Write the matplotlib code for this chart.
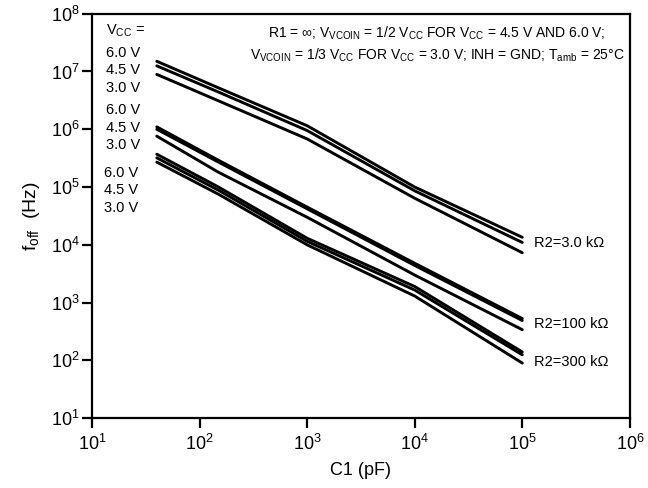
import numpy as np
import matplotlib
matplotlib.use("Agg")
import matplotlib.pyplot as plt
from matplotlib.ticker import LogLocator, NullLocator

plt.rcParams['font.family'] = ['Liberation Sans', 'DejaVu Sans']
plt.rcParams['mathtext.fontset'] = 'custom'
plt.rcParams['mathtext.rm'] = 'Liberation Sans'
plt.rcParams['mathtext.it'] = 'Liberation Sans'

# C1 values (pF)
c1 = [40, 150, 1000, 10000, 100000]

# f_off (Hz) per R2 group, per VCC
r2_3k = {
    "6.0": [1.5e7, 5.2e6, 1.15e6, 1.0e5, 1.35e4],
    "4.5": [1.25e7, 4.4e6, 9.5e5, 8.6e4, 1.1e4],
    "3.0": [8.9e6, 3.1e6, 6.8e5, 6.4e4, 7.3e3],
}
r2_100k = {
    "6.0": [1.1e6, 2.9e5, 4.5e4, 4.8e3, 5.3e2],
    "4.5": [1.0e6, 2.7e5, 4.2e4, 4.4e3, 4.9e2],
    "3.0": [7.6e5, 1.8e5, 3.0e4, 3.0e3, 3.4e2],
}
r2_300k = {
    "6.0": [3.7e5, 1.0e5, 1.3e4, 1.9e3, 1.4e2],
    "4.5": [3.2e5, 8.8e4, 1.15e4, 1.65e3, 1.25e2],
    "3.0": [2.7e5, 7.5e4, 1.0e4, 1.3e3, 9.0e1],
}
groups = [("R2=3.0 k\u03a9", r2_3k), ("R2=100 k\u03a9", r2_100k), ("R2=300 k\u03a9", r2_300k)]
vcc_labels = ["6.0 V", "4.5 V", "3.0 V"]

fig = plt.figure(figsize=(6.48, 4.88), dpi=100)
ax = fig.add_axes([0.142, 0.143, 0.83, 0.829])

for name, grp in groups:
    for v in ["6.0", "4.5", "3.0"]:
        ax.plot(c1, grp[v], color='black', lw=2.1, solid_capstyle='round')

ax.set_xscale('log')
ax.set_yscale('log')
ax.set_xlim(10, 1e6)
ax.set_ylim(10, 1e8)
ax.xaxis.set_major_locator(LogLocator(base=10, numticks=10))
ax.yaxis.set_major_locator(LogLocator(base=10, numticks=10))
ax.xaxis.set_minor_locator(NullLocator())
ax.yaxis.set_minor_locator(NullLocator())
ax.tick_params(axis='both', which='major', direction='out', length=7, width=1.6,
               labelsize=13, pad=2)
ax.tick_params(axis='x', pad=4)
for s in ax.spines.values():
    s.set_linewidth(1.6)

ax.set_xlabel("C1 (pF)", fontsize=13, labelpad=6)
ax.set_ylabel(r"f$_{\mathregular{off}}$  (Hz)", fontsize=14, labelpad=6)

# annotation placement helpers (pixel -> axes fraction)
tr = ax.transAxes
H = 404.5
def ay(py):
    return 1 - (py - 13.5) / H
def ax_x(px):
    return (px - 92) / 538.0

ax.text(ax_x(106), ay(31), r"V$_{\mathregular{CC}}$ =", transform=tr, fontsize=10.5, va='center')
ys = [53, 70, 88, 110, 128, 145, 173, 190, 208]
for i, py in enumerate(ys):
    xp = 106 if i < 6 else 104
    ax.text(ax_x(xp), ay(py), vcc_labels[i % 3], transform=tr, fontsize=10.5, va='center')

ax.text(ax_x(437), ay(33),
        r"R1 = $\infty$; V$_{\mathregular{VCOIN}}$ = 1/2 V$_{\mathregular{CC}}$ FOR V$_{\mathregular{CC}}$ = 4.5 V AND 6.0 V;",
        transform=tr, fontsize=10, ha='center', va='center')
ax.text(ax_x(437), ay(55),
        r"V$_{\mathregular{VCOIN}}$ = 1/3 V$_{\mathregular{CC}}$ FOR V$_{\mathregular{CC}}$ = 3.0 V; INH = GND; T$_{\mathregular{amb}}$ = 25$\degree$C",
        transform=tr, fontsize=10, ha='center', va='center')

label_y = [243, 324, 362]
for (name, grp), py in zip(groups, label_y):
    ax.text(ax_x(534), ay(py), name, transform=tr, fontsize=10.5, va='center')

plt.savefig("out.png", dpi=100)
